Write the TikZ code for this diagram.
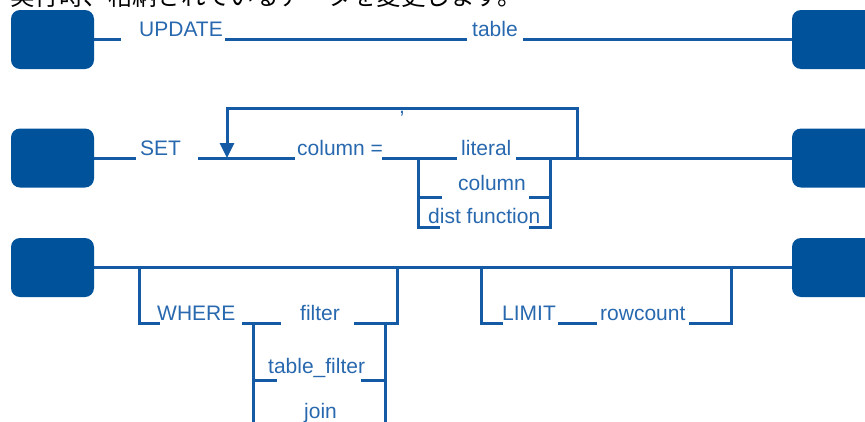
\documentclass[tikz,border=0pt]{standalone}
\usepackage{fontspec}
\setmainfont{Liberation Sans}
\newfontfamily\jafont{Noto Sans CJK JP}
\usetikzlibrary{arrows.meta}

\definecolor{boxblue}{RGB}{0,82,155}
\definecolor{lineblue}{RGB}{20,90,165}
\definecolor{textblue}{RGB}{40,104,174}

\begin{document}
\begin{tikzpicture}[x=1pt,y=-1pt,
  term/.style={fill=boxblue, rounded corners=9pt, minimum width=83pt,
    minimum height=59pt, inner sep=0pt},
  kw/.style={text=textblue, font=\fontsize{21}{25}\selectfont,
    inner sep=0pt, anchor=base west},
  rail/.style={draw=lineblue, line width=3pt},
  loopback/.style={rail, -{Triangle[width=14pt,length=15pt]}},
]
\useasboundingbox (0,0) rectangle (865,421);
\clip (0,0) rectangle (865,421);

% heading sentence, partly outside the page
\node[anchor=base west, inner sep=0pt, font=\jafont\fontsize{24.5}{30}\selectfont]
  (caption) at (10,5) {実行時、格納されているデータを変更します。};

% ---------- UPDATE table ----------
\node[term] (u1) at (52.5,39.5) {};
\node[term] (u2) at (833.5,39.5) {};
\node[kw] (kupdate) at (139,36) {UPDATE};
\node[kw] (ktable) at (472,36) {table};
\coordinate (a1) at (121,39.5);
\coordinate (a2) at (225,39.5);
\coordinate (a3) at (467,39.5);
\coordinate (a4) at (523,39.5);
\draw[rail, line width=2.6pt] (u1.east) -- (a1);
\draw[rail, line width=2.6pt] (a2) -- (a3);
\draw[rail, line width=2.6pt] (a4) -- (u2.west);

% ---------- SET column = value ----------
\node[term] (s1) at (52.5,158) {};
\node[term] (s2) at (833.5,158) {};
\node[kw] (kset) at (140,155) {SET};
\node[kw] (kcol) at (297,155) {column =};
\node[kw] (klit) at (461,155) {literal};
\node[kw] (kcol2) at (458,190) {column};
\node[kw] (kdist) at (428,223) {dist function};
\node[text=textblue, font=\fontsize{21}{25}\selectfont, inner sep=0pt,
  anchor=base] (kcomma) at (402,113) {,};

\coordinate (b1) at (136,158);
\coordinate (b2) at (198,158);
\coordinate (b3) at (295,158);
\coordinate (b4) at (382,158);
\coordinate (b5) at (457,158);
\coordinate (b6) at (516,158);
\draw[rail] (s1.east) -- (b1);
\draw[rail] (b2) -- (b3);
\draw[rail] (b4) -- (b5);
\draw[rail] (b6) -- (s2.west);

% repetition loop
\coordinate (lp0) at (577,158);
\coordinate (lp1) at (577,108);
\coordinate (lp2) at (227,108);
\coordinate (lp3) at (227,158);
\draw[loopback] (lp0) -- (lp1) -- (lp2) -- (lp3);

% value alternatives
\coordinate (vl0) at (418,158);
\coordinate (vl1) at (418,197);
\coordinate (vl2) at (418,227);
\coordinate (vr0) at (550,158);
\coordinate (vr1) at (550,197);
\coordinate (vr2) at (550,227);
\draw[rail] (vl0) -- (vl2) -- ++(22,0);
\draw[rail] (vl1) -- ++(24,0);
\draw[rail] (vr0) -- (vr2) -- ++(-21,0);
\draw[rail] (vr1) -- ++(-21,0);

% ---------- WHERE / LIMIT ----------
\node[term] (w1) at (52.5,267.5) {};
\node[term] (w2) at (833.5,267.5) {};
\draw[rail] (w1.east) -- (w2.west);

\node[kw] (kwhere) at (157,320) {WHERE};
\node[kw] (kfilter) at (300,320) {filter};
\node[kw] (ktf) at (268,373) {table\_filter};
\node[kw] (kjoin) at (304,418) {join};

\coordinate (c0) at (139,267.5);
\coordinate (c1) at (139,323);
\coordinate (c2) at (242,323);
\coordinate (c3) at (281,323);
\coordinate (c4) at (354,323);
\coordinate (c5) at (397,323);
\coordinate (c6) at (397,267.5);
\draw[rail] (c0) -- (c1) -- ++(21,0);
\draw[rail] (c2) -- (c3);
\draw[rail] (c4) -- (c5) -- (c6);

% filter alternatives
\coordinate (fl0) at (253,323);
\coordinate (fl1) at (253,380);
\coordinate (fl2) at (253,440);
\coordinate (fr0) at (385,323);
\coordinate (fr1) at (385,380);
\coordinate (fr2) at (385,440);
\draw[rail] (fl0) -- (fl2);
\draw[rail] (fl1) -- ++(24,0);
\draw[rail] (fr0) -- (fr2);
\draw[rail] (fr1) -- ++(-24,0);

\node[kw] (klimit) at (502,320) {LIMIT};
\node[kw] (krow) at (600,320) {rowcount};
\coordinate (d0) at (481,267.5);
\coordinate (d1) at (481,323);
\coordinate (d2) at (558,323);
\coordinate (d3) at (597,323);
\coordinate (d4) at (689,323);
\coordinate (d5) at (731,323);
\coordinate (d6) at (731,267.5);
\draw[rail] (d0) -- (d1) -- ++(22,0);
\draw[rail] (d2) -- (d3);
\draw[rail] (d4) -- (d5) -- (d6);
\end{tikzpicture}
\end{document}
